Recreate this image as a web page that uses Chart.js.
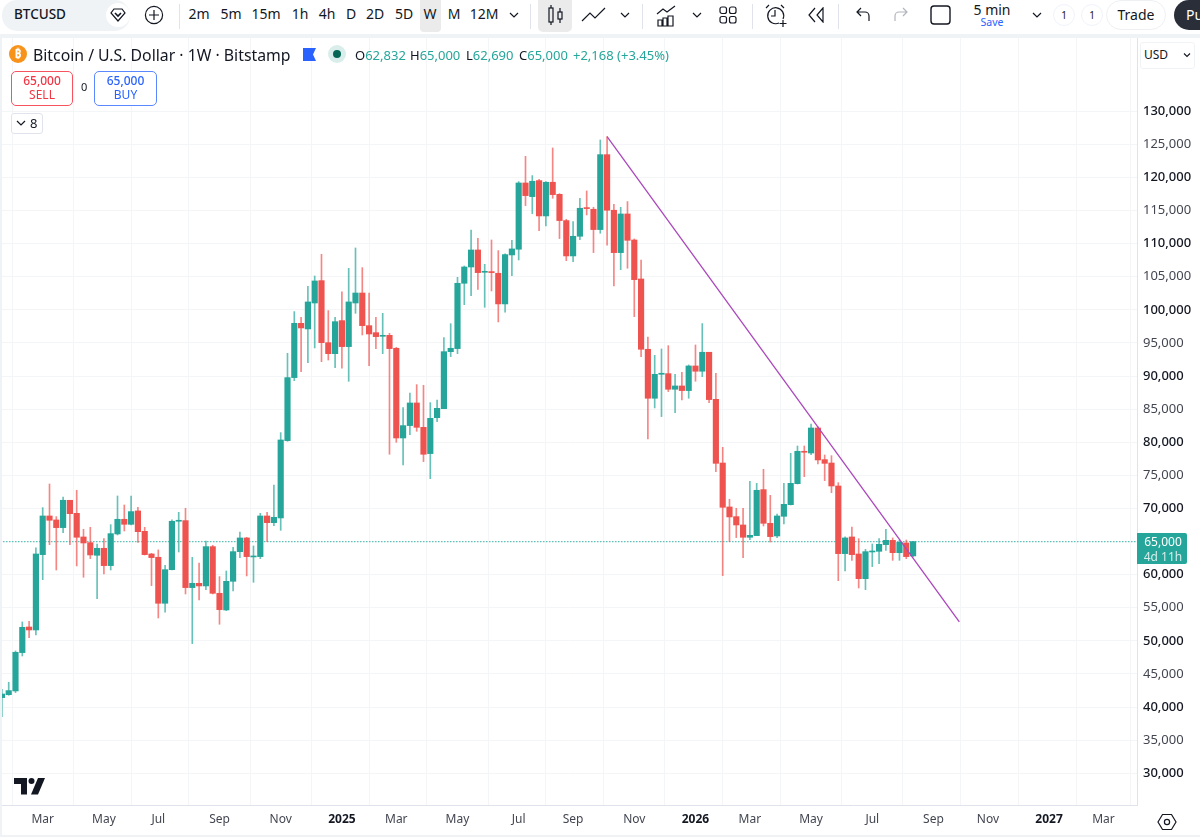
<!DOCTYPE html>
<html lang="en">
<head>
<meta charset="UTF-8">
<title>BTCUSD 1W</title>
<script src="https://cdn.jsdelivr.net/npm/chart.js"></script>
<style>
    html, body { margin: 0; padding: 0; background: #fff; }
    body { width: 1200px; height: 837px; position: relative; overflow: hidden; font-family: "Noto Sans", sans-serif; color: #131722; }
    #priceChart { position: absolute; left: 0; top: 38px; }
    .abs { position: absolute; white-space: nowrap; }
    .tf { position: absolute; top: 4px; font-size: 14px; line-height: 20px; transform: translateX(-50%); }
    .sep { position: absolute; top: 4px; width: 1px; height: 25px; background: #e0e3eb; }
    .ic { position: absolute; fill: none; stroke: #131722; stroke-width: 1.2; }
    .ohlc { position: absolute; top: 46px; font-size: 13px; line-height: 18px; color: #26a69a; }
    .ohlc b { font-weight: 400; color: #131722; }
</style>
</head>
<body>
    <canvas id="priceChart" width="1200" height="797"></canvas>

    <!-- top bar -->
    <div class="abs" style="left:2px;top:0;width:128px;height:31px;background:#f0f3f5;border-radius:15px"></div>
    <div class="abs" style="left:14px;top:4px;font-size:13.5px;line-height:20px;font-weight:500">BTCUSD</div>
    <div class="abs" style="left:106px;top:3px;width:24px;height:24px;border-radius:12px;background:#fff"></div>
    <svg class="ic" style="left:110px;top:7px" width="16" height="16" viewBox="0 0 16 16"><path d="M4 2h8l3 4-7 8-7-8z"/><path d="M5 6l3 3 3-3" stroke-width="1.6"/></svg>
    <svg class="ic" style="left:144px;top:5px" width="20" height="20" viewBox="0 0 20 20"><circle cx="10" cy="10" r="8.6"/><path d="M10 5v10M5 10h10"/></svg>
    <div class="sep" style="left:179px"></div>
    <div class="abs" style="left:420px;top:0;width:21px;height:32px;background:#ebebeb;border-radius:0 0 4px 4px"></div>
    <div class="tf" style="left:199px">2m</div>
    <div class="tf" style="left:231px">5m</div>
    <div class="tf" style="left:266px">15m</div>
    <div class="tf" style="left:300px">1h</div>
    <div class="tf" style="left:327px">4h</div>
    <div class="tf" style="left:351px">D</div>
    <div class="tf" style="left:375px">2D</div>
    <div class="tf" style="left:404px">5D</div>
    <div class="tf" style="left:430px">W</div>
    <div class="tf" style="left:454px">M</div>
    <div class="tf" style="left:484px">12M</div>
    <svg class="ic" style="left:509px;top:11px" width="10" height="8" viewBox="0 0 10 8"><path d="M1 2l4 4 4-4"/></svg>
    <div class="sep" style="left:530px"></div>
    <div class="abs" style="left:538px;top:0;width:34px;height:32px;background:#ebebeb;border-radius:0 0 5px 5px"></div>
    <svg class="ic" style="left:547px;top:4px" width="18" height="22" viewBox="0 0 18 22"><rect x="2" y="4" width="4" height="14"/><path d="M4 1v3M4 18v3"/><rect x="11" y="8" width="4" height="7"/><path d="M13 4v4M13 15v4"/></svg>
    <svg class="ic" style="left:581px;top:6px" width="25" height="17" viewBox="0 0 25 17"><path d="M1 15l8-8 5 5 10-10"/></svg>
    <svg class="ic" style="left:620px;top:11px" width="10" height="8" viewBox="0 0 10 8"><path d="M1 2l4 4 4-4"/></svg>
    <div class="sep" style="left:642px"></div>
    <svg class="ic" style="left:656px;top:4px" width="20" height="23" viewBox="0 0 20 23"><path d="M1 10l6-5 4 3 8-6"/><path d="M2 22v-6h4v6zM7 22v-8h4v8zM12 22v-10h5v10z"/></svg>
    <svg class="ic" style="left:692px;top:11px" width="10" height="8" viewBox="0 0 10 8"><path d="M1 2l4 4 4-4"/></svg>
    <svg class="ic" style="left:719px;top:5px" width="18" height="20" viewBox="0 0 18 20"><rect x="1" y="2" width="6.500" height="6.500" rx="2"/><rect x="10.500" y="2" width="6.500" height="6.500" rx="2"/><rect x="1" y="11.500" width="6.500" height="6.500" rx="2"/><rect x="10.500" y="11.500" width="6.500" height="6.500" rx="2"/></svg>
    <div class="sep" style="left:752px"></div>
    <svg class="ic" style="left:765px;top:3px" width="23" height="25" viewBox="0 0 23 25"><path d="M14 20a8 8 0 1 1 4-4"/><path d="M10 7v6h-4M1 5l3-3M19 5l-3-3M18 17v7M14.500 20.500h7"/></svg>
    <svg class="ic" style="left:807px;top:7px" width="18" height="16" viewBox="0 0 18 16"><path d="M8 1l-6 7 6 7M16 1l-6 7 6 7z"/></svg>
    <div class="sep" style="left:838px"></div>
    <svg class="ic" style="left:855px;top:7px" width="16" height="15" viewBox="0 0 16 15"><path d="M6 1l-4 4 4 4M2 5h8a4 4 0 0 1 4 4v5"/></svg>
    <svg class="ic" style="left:893px;top:7px;stroke:#b2b5be" width="16" height="15" viewBox="0 0 16 15"><path d="M10 1l4 4-4 4M14 5h-8a4 4 0 0 0-4 4v5"/></svg>
    <svg class="ic" style="left:930px;top:5px;stroke-width:1.4" width="21" height="20" viewBox="0 0 21 20"><rect x="1" y="1" width="19" height="18" rx="3"/></svg>
    <div class="abs" style="left:992px;top:1px;font-size:14px;line-height:18px;transform:translateX(-50%)">5 min</div>
    <div class="abs" style="left:992px;top:15px;font-size:10.5px;line-height:14px;color:#2962ff;transform:translateX(-50%)">Save</div>
    <svg class="ic" style="left:1032px;top:11px" width="10" height="8" viewBox="0 0 10 8"><path d="M1 2l4 4 4-4"/></svg>
    <div class="abs" style="left:1053px;top:4px;width:20px;height:20px;border:1px solid #f0f3fa;border-radius:11px;font-size:10px;line-height:20px;text-align:center">1</div>
    <div class="abs" style="left:1081px;top:4px;width:20px;height:20px;border:1px solid #f0f3fa;border-radius:11px;font-size:10px;line-height:20px;text-align:center">1</div>
    <div class="abs" style="left:1106px;top:0;width:58px;height:28px;border:1px solid #eef0f3;border-radius:15px;font-size:14px;line-height:28px;text-align:center">Trade</div>
    <div class="abs" style="left:1174px;top:0;width:40px;height:30px;background:#2a2e39;border-radius:15px;font-size:14px;line-height:29px;color:#fff;padding-left:12px;box-sizing:border-box">Pu</div>

    <!-- gray strip and pane frame -->
    <div class="abs" style="left:0;top:34px;width:1200px;height:4px;background:#f0f3f5"></div>
    <div class="abs" style="left:0;top:34px;width:2px;height:803px;background:#f0f3f5"></div>
    <div class="abs" style="left:0;top:835px;width:1200px;height:2px;background:#f0f3f5"></div>

    <!-- legend line -->
    <svg class="abs" style="left:9px;top:45px" width="18" height="18" viewBox="0 0 18 18"><circle cx="9" cy="9" r="9" fill="#f7931a"/><text x="9" y="13" font-size="12" font-weight="700" fill="#fff" text-anchor="middle" font-family="Noto Sans">₿</text></svg>
    <div class="abs" style="left:33px;top:44px;font-size:15.8px;line-height:22px">Bitcoin / U.S. Dollar · 1W · Bitstamp</div>
    <svg class="abs" style="left:303px;top:48px" width="13" height="13" viewBox="0 0 13 13"><path d="M0 0h13l-3 6.500 3 6.500h-13z" fill="#2962ff"/></svg>
    <div class="abs" style="left:328px;top:45px;width:18px;height:18px;border-radius:9px;background:#d9eeeb"></div>
    <div class="abs" style="left:333px;top:50px;width:8px;height:8px;border-radius:4px;background:#056656"></div>
    <div class="ohlc" style="left:355px"><b>O</b>62,832</div>
    <div class="ohlc" style="left:410px"><b>H</b>65,000</div>
    <div class="ohlc" style="left:466px"><b>L</b>62,690</div>
    <div class="ohlc" style="left:519px"><b>C</b>65,000</div>
    <div class="ohlc" style="left:573px">+2,168 (+3.45%)</div>

    <!-- order buttons -->
    <div class="abs" style="left:11px;top:71px;width:60px;height:31px;border:1px solid #f7525f;border-radius:5px;background:#fff;color:#f23645;text-align:center;font-size:12px;line-height:14px;padding-top:2px"><div style="font-weight:500">65,000</div><div>SELL</div></div>
    <div class="abs" style="left:81px;top:79px;font-size:11px;line-height:16px">0</div>
    <div class="abs" style="left:94px;top:71px;width:61px;height:31px;border:1px solid #5b87ff;border-radius:5px;background:#fff;color:#2962ff;text-align:center;font-size:12px;line-height:14px;padding-top:2px"><div style="font-weight:500">65,000</div><div>BUY</div></div>
    <div class="abs" style="left:11px;top:113px;width:30px;height:19px;border:1px solid #e0e3eb;border-radius:3px;background:#fff"></div>
    <svg class="ic" style="left:16px;top:119px" width="10" height="8" viewBox="0 0 10 8"><path d="M1 2l4 4 4-4"/></svg>
    <div class="abs" style="left:30px;top:114px;font-size:13px;line-height:18px">8</div>

    <!-- currency button -->
    <div class="abs" style="left:1140px;top:42px;width:53px;height:25px;border:1px solid #f0f3f5;border-radius:3px;background:#fff"></div>
    <div class="abs" style="left:1144px;top:46px;font-size:12px;line-height:18px">USD</div>
    <svg class="ic" style="left:1183px;top:52px;stroke-width:1.5" width="8" height="6" viewBox="0 0 10 8"><path d="M1 2l4 4 4-4"/></svg>

    <!-- last price tag -->
    <div class="abs" style="left:1137px;top:533px;width:50px;height:31px;background:#26a69a;border-radius:0 2px 2px 0;color:#fff;text-align:center;font-size:12px;line-height:15px;padding:1px 0 0 2px;box-sizing:border-box">65,000<br><span style="color:#d4edea">4d 11h</span></div>

    <!-- logo and settings -->
    <svg class="abs" style="left:14px;top:778px" width="31" height="17" viewBox="0 0 31 17"><path d="M0 0h13v16.500h-6v-10.500h-7z" fill="#131722"/><circle cx="17.500" cy="3" r="3" fill="#131722"/><path d="M24 0h7l-7 16.500h-7z" fill="#131722"/></svg>
    <svg class="ic" style="left:1157px;top:813px" width="20" height="18" viewBox="0 0 20 18"><path d="M5.500 1.500h9l4.500 7.500-4.500 7.500h-9l-4.500-7.500z"/><circle cx="10" cy="9" r="2.600"/></svg>

<script>
// weekly candles, oldest first
const opens = [41430,41880,42440,48230,52100,51650,63030,68870,68270,67110,71240,69270,65700,64840,62930,63990,61370,66150,68370,67610,69630,66550,63130,62630,55680,60760,68070,68170,58050,58700,58300,64240,57190,54670,59000,63480,65550,62680,62730,68870,67860,68570,80250,89770,97970,97120,101040,104420,95050,93390,98380,94450,101040,102550,97620,96560,96010,96160,94200,80650,82520,85940,82260,78290,83720,85080,93690,94150,104020,106480,109050,105680,105730,105530,100900,108300,109160,119170,117110,119530,114190,119280,117460,113490,108150,111120,115350,115200,112130,123450,115050,108650,114490,110560,104670,94050,86650,90270,90370,88010,88510,87810,91530,90730,93600,86490,76870,70230,68770,67510,65650,65900,72850,67760,65850,68820,70580,73750,78640,78380,82160,77380,76870,73400,63180,65700,63130,59400,63430,63530,64540,65190,63330,64790,62832];
const highs = [42690,43750,48480,52860,52960,64040,70130,73700,68770,71740,71240,72750,66860,67160,64640,65450,67560,71890,70530,71890,70180,67160,63230,63740,61420,68270,69420,70030,62630,61770,65090,64440,59710,60560,64140,66450,65650,64340,69270,69420,73550,81460,93440,99740,98880,103560,105120,108400,99890,98880,102710,106280,109350,106380,102550,98880,99480,96460,94350,85230,87450,88710,88610,85990,86390,95810,97920,104920,106630,112070,110810,106880,110560,108950,108450,110510,119380,123200,120280,119730,119380,124460,117560,113690,113330,116860,117970,115500,125670,126170,115950,115500,116360,110720,107540,95910,93140,94100,94600,90270,90580,91680,94700,97930,93600,90420,79240,71390,70030,70030,74100,73800,75920,71990,69170,73800,78330,79440,79440,82760,82360,78080,77980,73900,65700,67210,65440,63830,64640,65440,66850,65550,65240,65240,65000];
const lows = [38560,41780,42190,47720,50490,50900,59250,64540,60710,66350,64540,61320,59610,62430,56380,60110,60710,66000,66600,67510,64890,62980,58350,53460,54320,60710,63430,57090,49590,56180,57740,57090,52510,54570,57540,62580,59810,58850,62430,64990,67410,66700,80150,89310,90670,92030,94250,92180,92430,91280,91180,89210,99480,96210,91580,94150,93390,78190,80000,76570,81160,81660,77080,74510,83120,85080,92940,93390,100790,102150,103110,100390,102860,98180,99640,105180,107540,115750,114540,111970,112680,116860,110770,107440,107290,110620,114340,108650,111570,109760,103620,106080,106290,98980,92940,80510,85190,83880,87660,84480,86400,86650,89220,89920,85990,75560,59860,64990,65600,62570,65290,65900,67360,64940,65600,67660,70530,73700,74810,78130,76720,74210,72390,59100,60560,62170,57990,57740,61220,61670,63680,62170,62170,62420,62690];
const closes = [41980,42490,48280,52050,51650,63130,68870,68220,67110,71240,69220,65650,64790,62980,63990,61370,66200,68370,67610,69530,66500,63030,62580,55680,60760,68070,68220,58050,58700,58300,64240,57190,54720,59000,63480,65550,62730,62780,68870,67860,68670,80350,89770,97970,97270,101200,104370,95050,93390,98220,94450,101200,102550,97620,96360,95960,96160,94150,80650,82520,85940,82260,78190,83620,85130,93690,94200,104020,106480,109050,105630,105830,105630,100900,108350,109210,119170,117260,119430,114190,119280,117410,113490,108150,111120,115350,115300,112130,123450,115050,108650,114490,110510,104570,94050,86650,90270,90430,88010,88510,87810,91530,90730,93600,86450,76820,70180,68720,67510,65650,65950,72750,67760,65750,68870,70630,73800,78640,78490,82160,77330,76820,73400,63180,65550,63030,59400,63480,63580,64590,65190,63330,64890,62730,65000];

// trend line from the September high, index is in candles
const trendIndex = [89, 140.8];
const trendPrice = [126170, 52860];
const lastPrice = 65000;

const priceTicks = [30000,35000,40000,45000,50000,55000,60000,65000,70000,75000,80000,85000,90000,95000,100000,105000,110000,115000,120000,125000,130000];
const timeTickIndex = [6,15,23,32,41,50,58,67,76,84,93,102,110,119,128,137,145,154,162];
const timeTickLabels = ['Mar','May','Jul','Sep','Nov','2025','Mar','May','Jul','Sep','Nov','2026','Mar','May','Jul','Sep','Nov','2027','Mar'];

const UP = '#26a69a';
const DOWN = '#ef5350';
const isUp = opens.map((o, i) => closes[i] >= o);

const xMin = -0.28;
const xMax = 166.93;

const isYear = i => (timeTickLabels[i] || '').length === 4;
const isRound = tick => tick && tick.value % 10000 === 0;

// the edge labels must not shrink the plot area
function noEdgePadding(axis) {
    axis.paddingTop = axis.paddingBottom = axis.paddingLeft = axis.paddingRight = 0;
}

new Chart(document.getElementById('priceChart').getContext('2d'), {
    data: {
        datasets: [{
            type: 'line',
            data: trendIndex.map((x, i) => ({ x: x, y: trendPrice[i] })),
            borderColor: '#ab47bc',
            borderWidth: 1.3,
            pointRadius: 0,
            order: 0
        }, {
            type: 'bar',
            data: opens.map((o, i) => ({ x: i, y: [o, closes[i]] })),
            backgroundColor: isUp.map(u => u ? UP : DOWN),
            barThickness: 5.5,
            minBarLength: 1,
            grouped: false,
            order: 1
        }, {
            type: 'bar',
            data: lows.map((l, i) => ({ x: i, y: [l, highs[i]] })),
            backgroundColor: isUp.map(u => u ? 'rgba(38,166,154,.7)' : 'rgba(239,83,80,.7)'),
            barThickness: 1,
            grouped: false,
            order: 2
        }, {
            type: 'line',
            data: [{ x: xMin, y: lastPrice }, { x: xMax, y: lastPrice }],
            borderColor: '#5ec4ba',
            borderWidth: 1.4,
            borderDash: [1.5, 1.5],
            pointRadius: 0,
            order: 3
        }]
    },
    options: {
        responsive: false,
        animation: false,
        devicePixelRatio: 1,
        layout: { padding: 0 },
        plugins: { legend: { display: false }, tooltip: { enabled: false } },
        scales: {
            x: {
                type: 'linear',
                offset: false,
                min: xMin,
                max: xMax,
                afterBuildTicks: axis => { axis.ticks = timeTickIndex.map(v => ({ value: v })); },
                afterFit: axis => { axis.height = 30; noEdgePadding(axis); },
                grid: { color: '#f4f5f7', drawTicks: false },
                border: { color: '#e0e3eb' },
                ticks: {
                    autoSkip: false,
                    maxRotation: 0,
                    padding: 7,
                    color: ctx => isYear(ctx.index) ? '#131722' : '#434651',
                    font: ctx => ({ family: '"Noto Sans"', size: 12, weight: isYear(ctx.index) ? '700' : '400' }),
                    callback: (v, i) => timeTickLabels[i]
                }
            },
            y: {
                type: 'linear',
                position: 'right',
                min: 25210,
                max: 141070,
                afterBuildTicks: axis => { axis.ticks = priceTicks.map(v => ({ value: v })); },
                afterFit: axis => { axis.width = 63; noEdgePadding(axis); },
                grid: { color: '#f4f5f7', drawTicks: false },
                border: { color: '#e0e3eb' },
                ticks: {
                    padding: 6,
                    crossAlign: 'near',
                    color: ctx => isRound(ctx.tick) ? '#131722' : '#434651',
                    font: ctx => ({ family: '"Noto Sans"', size: 13, weight: isRound(ctx.tick) ? '500' : '400' }),
                    callback: v => v.toLocaleString('en-US')
                }
            }
        }
    }
});
</script>
</body>
</html>
